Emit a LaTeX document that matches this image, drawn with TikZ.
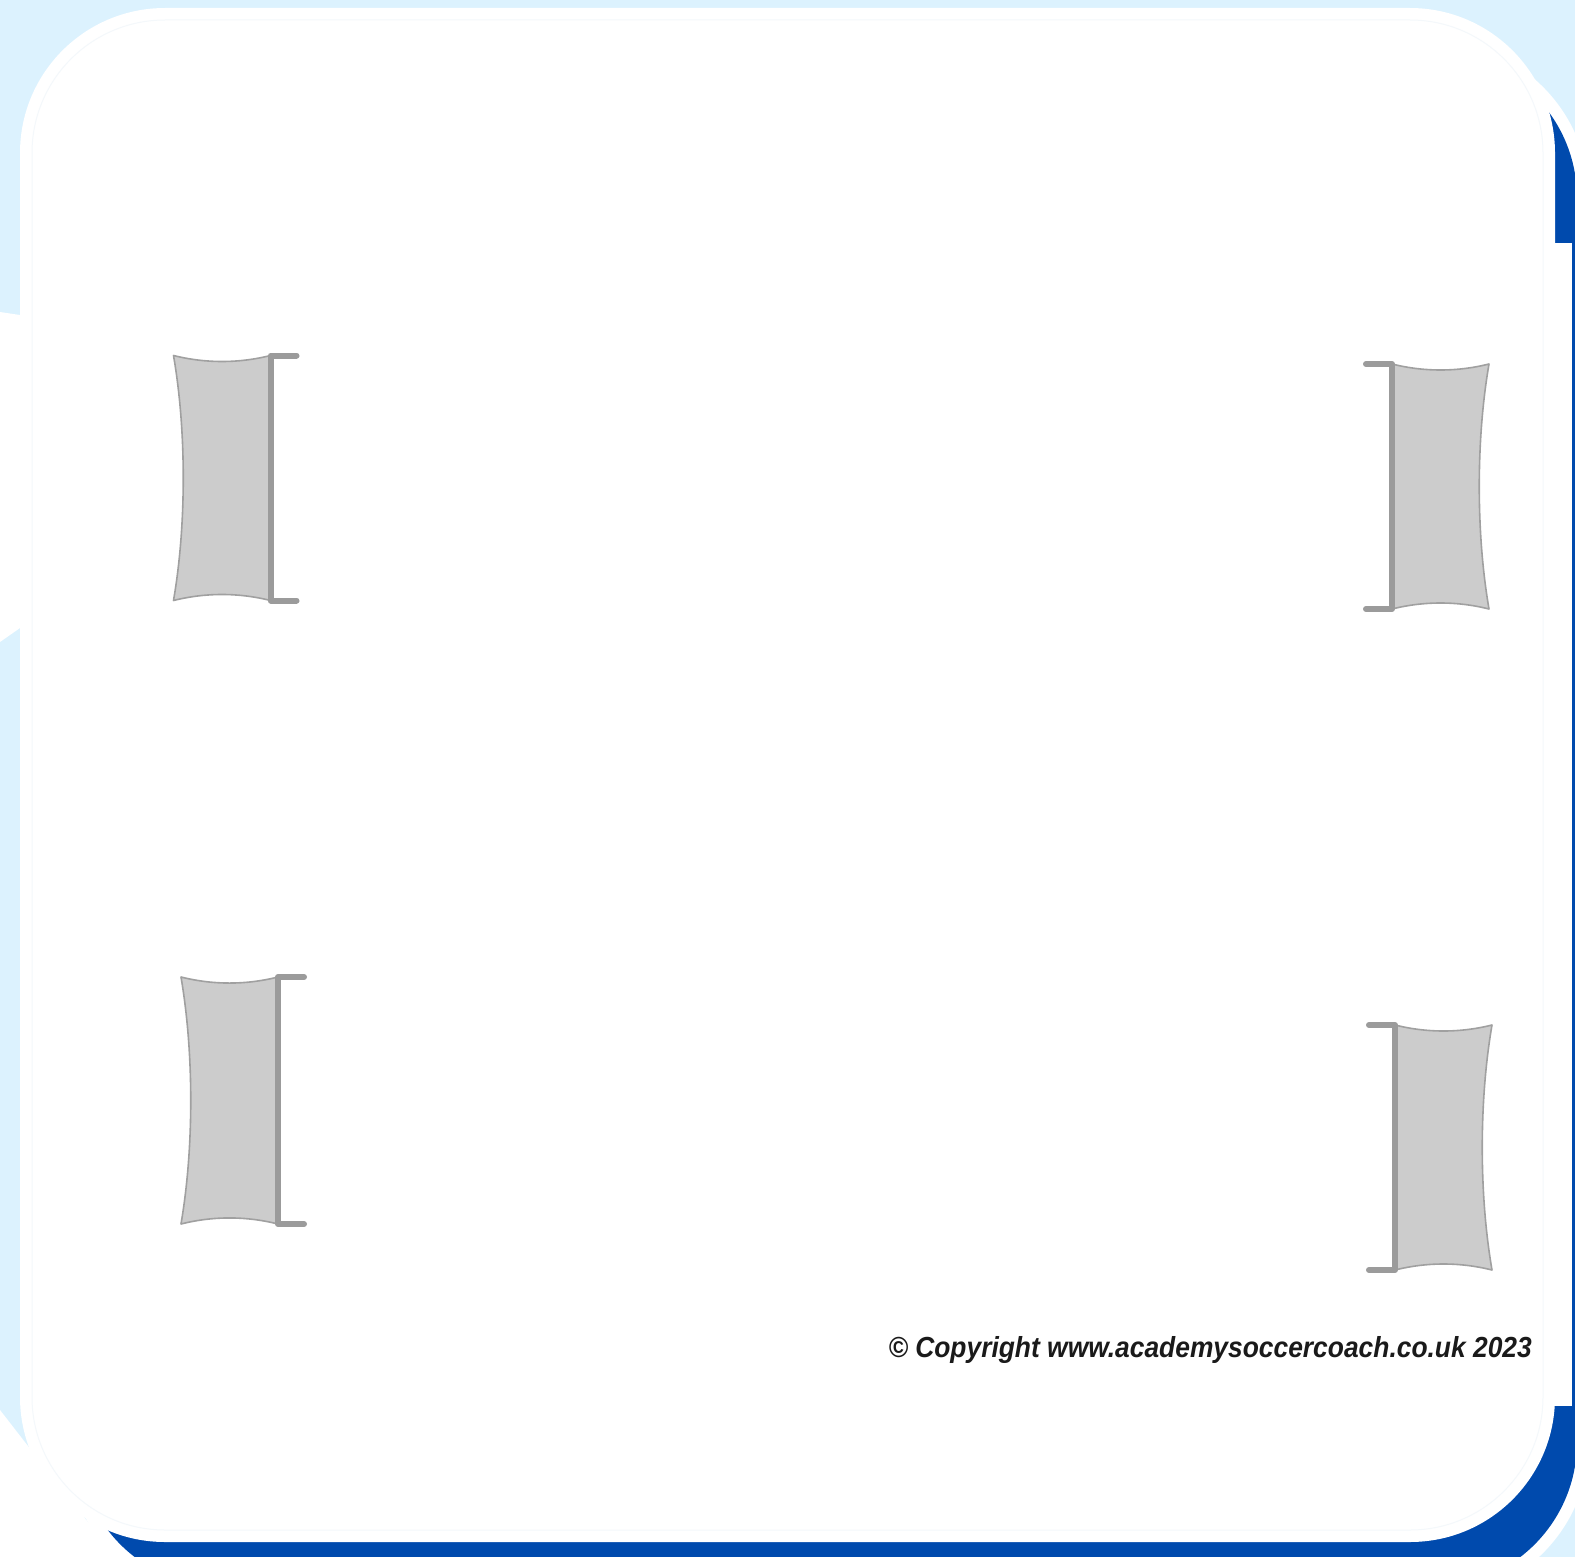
\documentclass[tikz,border=0pt]{standalone}
\usepackage{fontspec}
\newfontfamily\cfont{Liberation Sans}[FakeStretch=0.91]
\definecolor{bgblue}{RGB}{220,242,254}
\definecolor{darkblue}{RGB}{0,74,173}
\definecolor{netfill}{RGB}{204,204,204}
\definecolor{netline}{RGB}{160,160,160}
\definecolor{postcol}{RGB}{155,155,155}
\definecolor{faint}{RGB}{244,248,251}
\definecolor{txt}{RGB}{26,26,26}
\tikzset{
  netshape/.style={fill=netfill, draw=netline, line width=1.6pt, line join=round},
  postbar/.style={draw=postcol, line width=6pt, line cap=round, line join=round},
  goal/.pic={
    \path[netshape] (-97,0) .. controls (-65,8) and (-32,8) .. (0,0) -- (0,245)
      .. controls (-32,237) and (-65,237) .. (-97,245)
      .. controls (-84,170) and (-84,75) .. (-97,0) -- cycle;
    \draw[postbar] (26,0) -- (0,0) -- (0,245) -- (26,245);
  }
}
\begin{document}
\begin{tikzpicture}[x=1pt,y=-1pt]
\useasboundingbox (0,0) rectangle (1575,1557);
% background
\fill[bgblue] (0,0) rectangle (1575,1557);
\fill[white] (0,312) -- (20,315) -- (20,628) -- (0,642) -- cycle;
\fill[white] (0,1410) -- (80,1513) -- (120,1557) -- (0,1557) -- cycle;
% dark blue back card with white rim
\fill[white, rounded corners=157pt] (66,41) rectangle (1589,1599);
\fill[darkblue, rounded corners=145pt] (78,53) rectangle (1577,1587);
% main white card
\fill[white, rounded corners=145pt] (20,8) rectangle (1555,1542);
\fill[white] (1545,243) rectangle (1572,1406);
\draw[faint, line width=1pt, rounded corners=133pt] (32,20) rectangle (1543,1530);
% goals
\pic at (270.5,355.5) {goal};
\pic[xscale=-1] at (1392,364) {goal};
\pic[yscale=247/245] at (278,977) {goal};
\pic[xscale=-1] at (1395,1025) {goal};
% copyright
\node[anchor=base east, inner sep=0pt, text=txt, font=\cfont\bfseries\itshape\fontsize{29}{29}\selectfont] (copy) at (1532,1357) {© Copyright www.academysoccercoach.co.uk 2023};
\end{tikzpicture}
\end{document}
